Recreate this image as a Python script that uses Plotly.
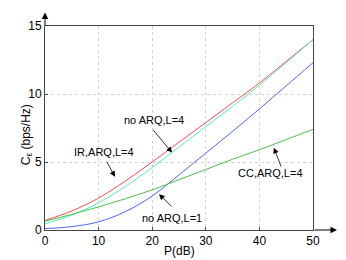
import plotly.graph_objects as go

P_dB = [0, 5, 10, 15, 20, 25, 30, 35, 40, 45, 50]
ir_arq_L4 = [0.7, 1.4, 2.35, 3.6, 5.0, 6.45, 7.9, 9.35, 10.8, 12.4, 14.0]
no_arq_L4 = [0.45, 1.1, 2.0, 3.2, 4.6, 6.1, 7.6, 9.1, 10.65, 12.3, 14.0]
no_arq_L1 = [0.1, 0.25, 0.6, 1.35, 2.5, 4.05, 5.65, 7.25, 8.9, 10.6, 12.3]
cc_arq_L4 = [0.65, 1.15, 1.7, 2.3, 2.95, 3.7, 4.45, 5.2, 5.9, 6.65, 7.4]

x_ticks = [0, 10, 20, 30, 40, 50]
y_ticks = [0, 5, 10, 15]

FONT = "Liberation Sans, Arial, Helvetica, sans-serif"

fig = go.Figure()
series = [
    (ir_arq_L4, "#ff4a4a", "IR,ARQ,L=4"),
    (no_arq_L4, "#55efb8", "no ARQ,L=4"),
    (no_arq_L1, "#4a66ff", "no ARQ,L=1"),
    (cc_arq_L4, "#4cc04c", "CC,ARQ,L=4"),
]
for ys, col, name in series:
    fig.add_trace(go.Scatter(x=P_dB, y=ys, mode="lines", name=name,
                             line=dict(color=col, width=1, shape="spline", smoothing=1.0),
                             showlegend=False))

PW, PH = 268, 211
ann = []
# axis arrows
ann.append(dict(xref="paper", yref="paper", x=0, y=1 + 14 / PH, ax=0, ay=14,
                axref="pixel", ayref="pixel", text="", showarrow=True,
                arrowhead=2, arrowsize=1.3, arrowwidth=1, arrowcolor="black", standoff=0))
ann.append(dict(xref="paper", yref="paper", x=1 + 24 / PW, y=0, ax=-24, ay=0,
                axref="pixel", ayref="pixel", text="", showarrow=True,
                arrowhead=2, arrowsize=1.3, arrowwidth=1, arrowcolor="black", standoff=0))

# labels (text) and pointer arrows
labels = [
    ("no ARQ,L=4", 20.3, 8.1, 19.96, 7.46, 23.7, 5.69),
    ("IR,ARQ,L=4", 11.0, 5.72, 11.38, 5.12, 13.06, 3.91),
    ("CC,ARQ,L=4", 42.0, 4.16, 44.16, 4.55, 42.7, 6.04),
    ("no ARQ,L=1", 23.7, 0.85, 23.9, 1.63, 21.27, 2.63),
]
for txt, tx, ty, ax_, ay_, hx, hy in labels:
    ann.append(dict(x=tx, y=ty, xref="x", yref="y", text=txt, showarrow=False,
                    font=dict(family=FONT, size=11, color="black")))
    ann.append(dict(x=hx, y=hy, xref="x", yref="y", ax=ax_, ay=ay_,
                    axref="x", ayref="y", text="", showarrow=True,
                    arrowhead=2, arrowsize=1.4, arrowwidth=0.8,
                    arrowcolor="black", standoff=0))

# y axis title
ann.append(dict(xref="paper", yref="paper", x=-28 / PW, y=(230 - 132) / PH,
                text="C<sub>ε</sub> (bps/Hz)", textangle=-90, showarrow=False,
                font=dict(family=FONT, size=12, color="black")))
# x axis title
ann.append(dict(xref="paper", yref="paper", x=0.5, y=-22 / PH, yanchor="middle",
                text="P(dB)", showarrow=False,
                font=dict(family=FONT, size=12, color="black")))

axis_common = dict(showline=True, linecolor="#444444", linewidth=1, mirror=True,
                   ticks="inside", ticklen=3, tickcolor="#444444",
                   showgrid=True, gridcolor="#d2d2d2", griddash="dot", gridwidth=1,
                   zeroline=False, tickfont=dict(family=FONT, size=12, color="black"))

# page body has an 8px default margin; compensate so plot area sits at (45..313, 19..230)
fig.update_layout(
    width=338, height=252,
    margin=dict(l=37, r=33, t=11, b=30),
    paper_bgcolor="white", plot_bgcolor="white",
    xaxis=dict(range=[0, 50], tickvals=x_ticks, **axis_common),
    yaxis=dict(range=[0, 15], tickvals=y_ticks, **axis_common),
    annotations=ann,
)

fig.write_html("out.html")
